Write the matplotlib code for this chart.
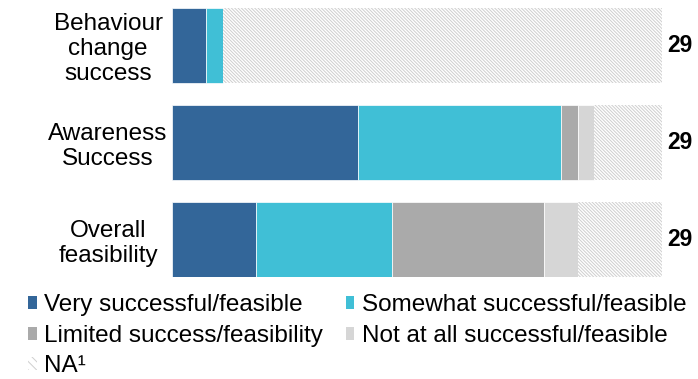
import numpy as np
import matplotlib.pyplot as plt
from matplotlib.patches import Patch

plt.rcParams['font.family'] = ['Liberation Sans', 'DejaVu Sans']
plt.rcParams['hatch.color'] = '#cfcfcf'
plt.rcParams['hatch.linewidth'] = 0.7

categories = ["Behaviour\nchange\nsuccess", "Awareness\nSuccess", "Overall\nfeasibility"]
series_names = ["Very successful/feasible", "Somewhat successful/feasible",
                "Limited success/feasibility", "Not at all successful/feasible", "NA\u00b9"]
very = [2, 11, 5]
somewhat = [1, 12, 8]
limited = [0, 1, 9]
not_at_all = [0, 1, 2]
na = [26, 4, 5]
totals = [29, 29, 29]

colors = ["#336699", "#40bfd6", "#aaaaaa", "#d6d6d6", "white"]
values = [very, somewhat, limited, not_at_all, na]
hatch = '\\' * 10

fig = plt.figure(figsize=(6.98, 3.79), dpi=100)
ax = fig.add_axes([172/698, 1-277/379, 490/698, 269/379])

y = np.arange(len(categories))
left = np.zeros(len(categories))
for i, (vals, col) in enumerate(zip(values, colors)):
    vals = np.array(vals)
    if i == 4:
        ax.barh(y, vals, left=left, height=0.77, color='white', hatch=hatch,
                edgecolor='#cfcfcf', linewidth=0)
    else:
        ax.barh(y, vals, left=left, height=0.77, color=col, edgecolor='white', linewidth=0.5)
    left += vals

for yi, t in zip(y, totals):
    ax.text(29.3, yi, str(t), va='center', ha='left', fontsize=16.5, fontweight='bold')

ax.set_xlim(0, 29)
ax.set_ylim(2.385, -0.385)
ax.set_yticks(y)
ax.set_yticklabels(categories, fontsize=17.5, linespacing=1.17, ha='center')
ax.tick_params(axis='y', length=0, pad=46)
ax.set_xticks([])
for s in ax.spines.values():
    s.set_visible(False)

handles = [Patch(facecolor=c, edgecolor='none') for c in colors[:4]]
handles.append(Patch(facecolor='white', edgecolor='#cfcfcf', hatch='\\\\\\\\', linewidth=0))
order = [0, 2, 4, 1, 3]
fig.legend([handles[i] for i in order], [series_names[i] for i in order],
           loc='upper left', bbox_to_anchor=(28/698, 1-294/379), ncol=2,
           frameon=False, fontsize=17.5, handlelength=0.35, handleheight=0.45,
           handletextpad=0.3, columnspacing=0.95, labelspacing=0.36, borderaxespad=0,
           borderpad=0)

fig.savefig("out.png", dpi=100)
